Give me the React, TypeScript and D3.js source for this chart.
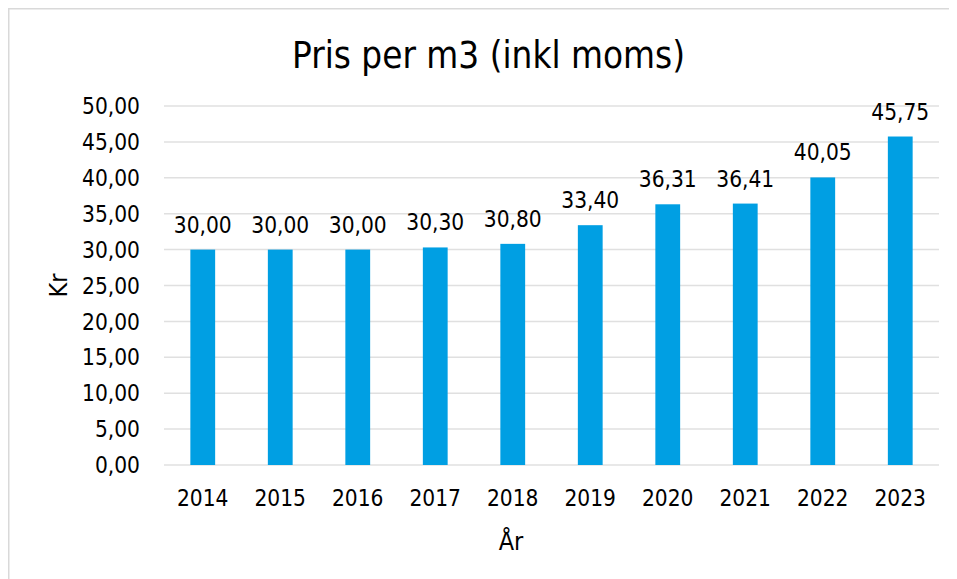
import { useEffect, useRef } from 'react'
import * as d3 from 'd3'

// Chart size — the svg sits inside the body's 8px margin
const W = 949
const H = 571
const M = { left: 156, right: 18, top: 98, bottom: 114 }

const years = ['2014', '2015', '2016', '2017', '2018', '2019', '2020', '2021', '2022', '2023']
const prices = [30.0, 30.0, 30.0, 30.3, 30.8, 33.4, 36.31, 36.41, 40.05, 45.75]
const yTicks = [0, 5, 10, 15, 20, 25, 30, 35, 40, 45, 50]

const FONT = '"DejaVu Sans Condensed", "DejaVu Sans", Verdana, sans-serif'
const BAR = '#009FE3'
const GRID = '#e0e0e0'

const fmt = (v: number) => v.toFixed(2).replace('.', ',')

export default function App() {
  const svgRef = useRef<SVGSVGElement | null>(null)

  useEffect(() => {
    if (!svgRef.current) return
    const svg = d3.select(svgRef.current)
    svg.selectAll('*').remove()

    const x = d3.scaleBand().domain(years).range([M.left, W - M.right]).paddingInner(0.68).paddingOuter(0.34)
    const y = d3.scaleLinear().domain([0, 50]).range([H - M.bottom, M.top])

    const txt = (g: any, size: number) =>
      g.attr('font-family', FONT)
        .attr('font-stretch', 'condensed')
        .attr('font-size', size)
        .attr('fill', '#000')

    // chart border (right and bottom edges fall outside the window)
    svg.append('rect')
      .attr('x', 0.75).attr('y', 0.75)
      .attr('width', W + 20).attr('height', H + 20)
      .attr('fill', 'white')
      .attr('stroke', '#d9d9d9')
      .attr('stroke-width', 1.5)

    // ── gridlines ─────────────────────────────────────
    svg.append('g')
      .selectAll('line')
      .data(yTicks)
      .join('line')
      .attr('x1', M.left).attr('x2', W - M.right)
      .attr('y1', (d) => y(d)).attr('y2', (d) => y(d))
      .attr('stroke', GRID)
      .attr('stroke-width', 1.5)

    // ── y tick labels ─────────────────────────────────
    txt(svg.append('g'), 22.5)
      .selectAll('text')
      .data(yTicks)
      .join('text')
      .attr('x', M.left - 24)
      .attr('y', (d: number) => y(d))
      .attr('dy', '0.36em')
      .attr('text-anchor', 'end')
      .text((d: number) => fmt(d))

    // ── bars ──────────────────────────────────────────
    svg.append('g')
      .selectAll('rect')
      .data(prices)
      .join('rect')
      .attr('x', (_, i) => x(years[i])!)
      .attr('width', x.bandwidth())
      .attr('y', (d) => y(d))
      .attr('height', (d) => y(0) - y(d))
      .attr('fill', BAR)

    // ── data labels ───────────────────────────────────
    txt(svg.append('g'), 22.5)
      .selectAll('text')
      .data(prices)
      .join('text')
      .attr('x', (_: number, i: number) => x(years[i])! + x.bandwidth() / 2)
      .attr('y', (d: number) => y(d) - 17)
      .attr('text-anchor', 'middle')
      .text((d: number) => fmt(d))

    // ── x tick labels ─────────────────────────────────
    txt(svg.append('g'), 22.5)
      .selectAll('text')
      .data(years)
      .join('text')
      .attr('x', (d: string) => x(d)! + x.bandwidth() / 2)
      .attr('y', y(0) + 41)
      .attr('text-anchor', 'middle')
      .text((d: string) => d)

    // ── titles ────────────────────────────────────────
    txt(svg.append('text'), 36.5)
      .attr('x', 480.5)
      .attr('y', 60)
      .attr('text-anchor', 'middle')
      .text('Pris per m3 (inkl moms)')

    txt(svg.append('text'), 25)
      .attr('x', 503)
      .attr('y', 542)
      .attr('text-anchor', 'middle')
      .text('År')

    txt(svg.append('text'), 25)
      .attr('transform', `translate(59, ${(y(0) + y(50)) / 2}) rotate(-90)`)
      .attr('text-anchor', 'middle')
      .text('Kr')
  }, [])

  return <svg ref={svgRef} width={W} height={H} style={{ display: 'block' }} />
}
